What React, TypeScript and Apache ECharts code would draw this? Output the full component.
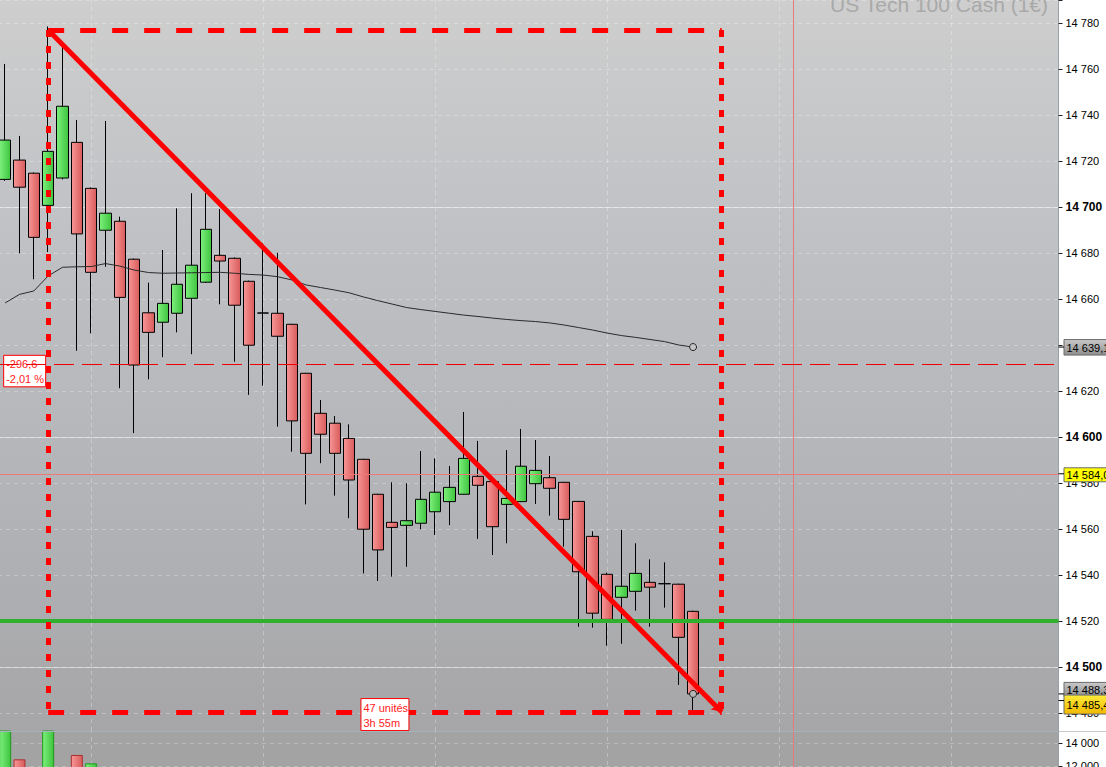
import React, { useEffect, useRef } from "react";
import * as echarts from "echarts";

const W = 1106;
const H = 767;
const FONT = 'Arial, "Liberation Sans", sans-serif';

// ---------- data ----------
const slotCount = 74; // candle slots shown on the time axis (49 filled, the rest is future space)
const categories = Array.from({ length: slotCount }, (_, i) => `#${i + 1}`);

const opens = [
  14712.0, 14720.4, 14714.7, 14700.7, 14712.6, 14728.1, 14708.1, 14689.9, 14693.8, 14677.3,
  14654.0, 14649.9, 14653.8, 14660.3, 14667.3, 14679.0, 14677.7, 14667.7, 14653.9, 14653.8,
  14649.0, 14627.7, 14610.3, 14606.0, 14599.4, 14590.3, 14575.1, 14562.9, 14561.6, 14562.5,
  14567.5, 14571.9, 14575.1, 14582.9, 14580.6, 14570.7, 14571.9, 14579.7, 14582.3, 14580.3,
  14572.0, 14556.8, 14540.3, 14530.3, 14532.9, 14536.8, 14536.2, 14536.0, 14524.2,
];
const closes = [
  14729.1, 14708.6, 14686.8, 14724.2, 14743.8, 14688.3, 14671.6, 14697.3, 14660.7, 14631.3,
  14645.5, 14658.1, 14666.4, 14674.7, 14690.3, 14676.5, 14657.3, 14639.9, 14653.9, 14643.8,
  14607.0, 14592.9, 14601.2, 14592.9, 14581.3, 14559.9, 14550.9, 14560.7, 14563.6, 14572.9,
  14576.0, 14578.1, 14590.7, 14579.0, 14561.0, 14573.3, 14587.3, 14585.5, 14577.7, 14564.2,
  14541.4, 14523.4, 14520.7, 14535.1, 14540.7, 14534.7, 14536.2, 14512.9, 14488.3,
];
const lows = [
  14711.4, 14679.9, 14668.6, 14680.4, 14712.0, 14637.5, 14645.1, 14674.0, 14621.2, 14601.7,
  14625.1, 14634.7, 14645.5, 14636.0, 14667.0, 14657.7, 14632.7, 14618.3, 14622.3, 14604.5,
  14593.6, 14570.7, 14588.6, 14574.5, 14564.7, 14540.7, 14537.4, 14539.3, 14543.6, 14559.9,
  14557.4, 14561.7, 14575.0, 14555.7, 14548.7, 14553.8, 14571.7, 14570.9, 14565.8, 14552.3,
  14517.5, 14517.1, 14509.3, 14510.1, 14524.5, 14517.5, 14525.8, 14492.2, 14481.3,
];
const highs = [
  14762.2, 14730.9, 14715.0, 14778.5, 14769.7, 14737.8, 14708.5, 14737.4, 14695.8, 14677.6,
  14667.1, 14681.3, 14699.4, 14706.0, 14706.0, 14699.1, 14678.1, 14668.0, 14684.2, 14680.1,
  14649.2, 14627.9, 14616.1, 14609.1, 14605.5, 14590.5, 14575.3, 14580.3, 14579.9, 14593.9,
  14590.7, 14587.4, 14610.9, 14598.3, 14581.0, 14594.3, 14603.5, 14598.7, 14591.7, 14580.5,
  14572.2, 14559.0, 14541.0, 14559.6, 14553.8, 14546.8, 14545.5, 14536.2, 14524.5,
];
const movingAverage = [
  14658.3, 14662.0, 14663.5, 14670.0, 14673.8, 14674.0, 14674.1, 14675.4, 14674.3, 14672.6,
  14671.5, 14671.2, 14671.3, 14671.4, 14671.5, 14671.6, 14671.2, 14670.7, 14670.4, 14669.7,
  14668.3, 14666.1, 14665.0, 14663.9, 14662.7, 14660.9, 14659.3, 14657.8, 14656.3, 14655.4,
  14654.6, 14653.8, 14653.0, 14652.4, 14651.7, 14651.1, 14650.6, 14650.2, 14649.6, 14648.7,
  14647.6, 14646.5, 14645.2, 14644.1, 14643.3, 14642.4, 14641.5, 14640.0, 14639.1,
];
// volume pane: only the first bars reach the visible part of the pane
const volumes: (number | null)[] = [15600, 12580, null, 15400, null, 12960, 12230];
const volumeSide = ["up", "down", "", "up", "", "down", "up"];

const priceMin = 14472.17;
const priceMax = 14790;
const priceStep = 20;
const volumeMin = 10000;
const volumeMax = 15043.5;
const volumeStep = 2000;

const retraceLevel = 14631.6;
const alertLevel = 14584.0;
const supportLevel = 14520.0;
const majorLevels = [14500, 14600, 14700];
const maLastValue = 14639.1;
const lastClose = 14488.3;
const bidPrice = 14485.4;

const boxStart = 3;
const boxEnd = 50;
const boxHigh = 14777.0;
const boxLow = 14480.4;
const boxLabel = ["-296,6", "-2,01 %"];
const spanLabel = ["47 unités", "3h 55m"];
const gridColumns = [6, 18, 30, 42, 54, 66];
const nowSlot = 55;
const title = "US Tech 100 Cash (1€)";

// ---------- helpers ----------
const groupThousands = (n: number) => String(n).replace(/\B(?=(\d{3})+(?!\d))/g, " ");
const fmtPrice = (v: number) => {
  const [i, d] = v.toFixed(1).split(".");
  return `${groupThousands(Number(i))},${d}`;
};

const GRID_LEFT = -2;
const GRID_RIGHT = 47.5;
const MAIN_H = 731;
const VOL_H = 58;

function buildOption() {
  const upFill = new echarts.graphic.LinearGradient(0, 0, 1, 0, [
    { offset: 0, color: "#7df07d" },
    { offset: 1, color: "#3ec43e" },
  ]);
  const downFill = new echarts.graphic.LinearGradient(0, 0, 1, 0, [
    { offset: 0, color: "#f89696" },
    { offset: 1, color: "#d85b5b" },
  ]);
  const mainBg = new echarts.graphic.LinearGradient(0, 0, 0, 1, [
    { offset: 0, color: "#cecece" },
    { offset: 0.35, color: "#bec0c4" },
    { offset: 0.7, color: "#b2b3b7" },
    { offset: 1, color: "#a6a6a8" },
  ]);

  const priceLabel = (v: number) => {
    const r = Math.round(v);
    if (Math.abs(v - r) > 0.01 || r % priceStep !== 0) return "";
    const s = groupThousands(r);
    return r % 100 === 0 ? `{b|${s}}` : `{n|${s}}`;
  };
  const volLabel = (v: number) => {
    const r = Math.round(v);
    if (Math.abs(v - r) > 0.01 || r % volumeStep !== 0) return "";
    return `{n|${groupThousands(r)}}`;
  };
  const rich = {
    b: { fontFamily: FONT, fontSize: 12, fontWeight: "bold", color: "#000" },
    n: { fontFamily: FONT, fontSize: 11, color: "#000" },
  };

  const hLine = { color: "#ff0000", width: 5, type: [16, 16] };
  const vLine = { color: "#ff0000", width: 5, type: [7, 9] };
  const c = (i: number) => categories[i];

  const markCommon = {
    silent: true,
    symbol: ["none", "none"],
    label: { show: false },
    emphasis: { disabled: true },
    animation: false,
  };

  return {
    animation: false,
    backgroundColor: "#ffffff",
    textStyle: { fontFamily: FONT },
    grid: [
      { left: GRID_LEFT, right: GRID_RIGHT, top: 0, height: MAIN_H, show: true, backgroundColor: mainBg, borderWidth: 0, containLabel: false, outerBoundsMode: "none" },
      { left: GRID_LEFT, right: GRID_RIGHT, top: MAIN_H, height: VOL_H, show: true, backgroundColor: "#a3a3a3", borderWidth: 0, containLabel: false, outerBoundsMode: "none" },
    ],
    xAxis: [
      { type: "category", gridIndex: 0, data: categories, boundaryGap: true, show: false },
      { type: "category", gridIndex: 1, data: categories, boundaryGap: true, show: false },
    ],
    yAxis: [
      {
        type: "value", gridIndex: 0, position: "right", min: priceMin, max: priceMax,
        splitNumber: 16, minInterval: priceStep, maxInterval: priceStep,
        axisLine: { show: true, lineStyle: { color: "#9aa1a6", width: 1 } },
        axisTick: { show: true, length: 4, lineStyle: { color: "#222" } },
        axisLabel: { margin: 7, color: "#000", formatter: priceLabel, rich, hideOverlap: false },
        splitLine: { show: true, lineStyle: { color: "rgba(255,255,255,0.28)", type: [4, 4], width: 1 } },
      },
      {
        type: "value", gridIndex: 1, position: "right", min: volumeMin, max: volumeMax,
        splitNumber: 3, minInterval: volumeStep, maxInterval: volumeStep,
        axisLine: { show: true, lineStyle: { color: "#9aa1a6", width: 1 } },
        axisTick: { show: true, length: 4, lineStyle: { color: "#222" } },
        axisLabel: { margin: 7, color: "#000", formatter: volLabel, rich },
        splitLine: { show: true, lineStyle: { color: "rgba(255,255,255,0.25)", type: [4, 4], width: 1 } },
      },
    ],
    series: [
      {
        // last close marker + background grid columns / major levels (under the candles)
        type: "scatter", xAxisIndex: 0, yAxisIndex: 0, silent: true, z: 5,
        data: [[48, lastClose]], symbol: "circle", symbolSize: 7,
        itemStyle: { color: "#b5b5b5", borderColor: "#222", borderWidth: 1, opacity: 1 },
        markLine: {
          ...markCommon, z: 1,
          data: [
            ...gridColumns.map((i) => ({ xAxis: c(i), lineStyle: { color: "rgba(255,255,255,0.3)", width: 1, type: [4, 4] } })),
            ...majorLevels.map((v) => ({ yAxis: v, lineStyle: { color: "rgba(255,255,255,0.45)", width: 1, type: "solid" } })),
            { xAxis: c(nowSlot), lineStyle: { color: "#e47c7c", width: 1, type: "solid" } },
          ],
        },
      },
      {
        type: "candlestick", xAxisIndex: 0, yAxisIndex: 0, silent: true, z: 3,
        data: opens.map((o, i) => [o, closes[i], lows[i], highs[i]]),
        barWidth: 12,
        itemStyle: {
          color: upFill, color0: downFill,
          borderColor: "#000", borderColor0: "#000", borderColorDoji: "#000", borderWidth: 1,
        },
      },
      {
        type: "line", xAxisIndex: 0, yAxisIndex: 0, silent: true, z: 4,
        symbol: "none", showSymbol: true,
        lineStyle: { color: "#2a2a2a", width: 1 },
        data: movingAverage.map((v, i) =>
          i === movingAverage.length - 1
            ? { value: v, symbol: "circle", symbolSize: 7, itemStyle: { color: "#c4c4c4", borderColor: "#222", borderWidth: 1 } }
            : v
        ),
        markLine: {
          ...markCommon, z: 6,
          data: [
            { yAxis: retraceLevel, lineStyle: { color: "#ee0000", width: 1, type: [20, 8] } },
            { yAxis: alertLevel, lineStyle: { color: "#f07878", width: 1, type: "solid" } },
            { yAxis: supportLevel, lineStyle: { color: "#2fb02f", width: 4, type: "solid" } },
            [{ coord: [c(boxStart), boxHigh] }, { coord: [c(boxEnd), boxHigh] }].map((d) => ({ ...d, lineStyle: hLine })),
            [{ coord: [c(boxStart), boxLow] }, { coord: [c(boxEnd), boxLow] }].map((d) => ({ ...d, lineStyle: hLine })),
            [{ coord: [c(boxStart), boxHigh] }, { coord: [c(boxStart), boxLow] }].map((d) => ({ ...d, lineStyle: vLine })),
            [{ coord: [c(boxEnd), boxHigh] }, { coord: [c(boxEnd), boxLow] }].map((d) => ({ ...d, lineStyle: vLine })),
            [
              { coord: [c(boxStart), boxHigh], symbol: "none", lineStyle: { color: "#ff0000", width: 5, type: "solid" } },
              { coord: [c(boxEnd), boxLow], symbol: "arrow", symbolSize: [9, 10], lineStyle: { color: "#ff0000", width: 5, type: "solid" } },
            ],
          ],
        },
      },
      {
        type: "bar", xAxisIndex: 1, yAxisIndex: 1, silent: true, z: 3, barWidth: 12,
        data: volumes.map((v, i) =>
          v == null
            ? null
            : {
                value: v,
                itemStyle: volumeSide[i] === "up"
                  ? { color: upFill, borderColor: "#1e9a1e", borderWidth: 1 }
                  : { color: downFill, borderColor: "#a83232", borderWidth: 1 },
              }
        ),
        markLine: {
          ...markCommon, z: 1,
          data: [
            ...gridColumns.map((i) => ({ xAxis: c(i), lineStyle: { color: "rgba(255,255,255,0.3)", width: 1, type: [4, 4] } })),
            { xAxis: c(nowSlot), lineStyle: { color: "#e47c7c", width: 1, type: "solid" } },
          ],
        },
      },
    ],
  };
}

function buildGraphics(chart: any) {
  const px = (i: number, v: number) => chart.convertToPixel({ gridIndex: 0 }, [i, v]) as number[];
  const axisX = W - GRID_RIGHT;
  const [bx0] = px(boxStart, boxHigh);
  const [bx1, byBot] = px(boxEnd, boxLow);
  const yRet = px(0, retraceLevel)[1];
  const yMa = px(0, maLastValue)[1];
  const yAlert = px(0, alertLevel)[1];
  const yLast = px(0, lastClose)[1];
  const yBid = px(0, bidPrice)[1];

  const grayTag = new echarts.graphic.LinearGradient(0, 0, 0, 1, [
    { offset: 0, color: "#c9c9c9" },
    { offset: 1, color: "#8e8e8e" },
  ]);
  const goldTag = new echarts.graphic.LinearGradient(0, 0, 0, 1, [
    { offset: 0, color: "#ffec3a" },
    { offset: 1, color: "#f2b800" },
  ]);

  const tag = (yTop: number, h: number, yText: number, text: string, fill: any, z: number) => [
    { type: "rect", z, shape: { x: axisX + 5.5, y: yTop, width: 60, height: h }, style: { fill, stroke: "#6a6a6a", lineWidth: 1 } },
    { type: "text", z: z + 1, style: { x: axisX + 8, y: yText, text, fill: "#000", font: `11px ${FONT}`, align: "left", verticalAlign: "middle" } },
  ];
  const tick = (y: number) => ({ type: "line", z: 60, shape: { x1: axisX, y1: y, x2: axisX + 5.5, y2: y }, style: { stroke: "#000", lineWidth: 1 } });

  const midX = (bx0 + bx1) / 2;
  return [
    { type: "text", z: 0, style: { x: 1048, y: 4, text: title, fill: "#a9a9a9", font: `21px ${FONT}`, align: "right", verticalAlign: "middle" } },
    { type: "line", z: 30, shape: { x1: 0, y1: MAIN_H + 0.5, x2: axisX, y2: MAIN_H + 0.5 }, style: { stroke: "#a3b3b9", lineWidth: 1 } },
    { type: "line", z: 30, shape: { x1: axisX, y1: MAIN_H + 0.5, x2: W, y2: MAIN_H + 0.5 }, style: { stroke: "#c9c9c9", lineWidth: 1 } },
    // measurement label on the left edge of the box (under the dashed lines)
    { type: "rect", z: 1, shape: { x: bx0 - 44.5, y: yRet - 9, width: 42, height: 31.5 }, style: { fill: "#fff", stroke: "#ff0000", lineWidth: 1 } },
    { type: "text", z: 1, style: { x: bx0 - 42, y: yRet, text: boxLabel[0], fill: "#ff1a1a", font: `11px ${FONT}`, align: "left", verticalAlign: "middle" } },
    { type: "text", z: 1, style: { x: bx0 - 42, y: yRet + 15, text: boxLabel[1], fill: "#ff1a1a", font: `11px ${FONT}`, align: "left", verticalAlign: "middle" } },
    // span label on the bottom edge of the box (above the dashed lines)
    { type: "rect", z: 20, shape: { x: midX - 24, y: byBot - 13.5, width: 48, height: 32 }, style: { fill: "#fff", stroke: "#ff0000", lineWidth: 1 } },
    { type: "text", z: 21, style: { x: midX - 21.5, y: byBot - 4.5, text: spanLabel[0], fill: "#ff1a1a", font: `11px ${FONT}`, align: "left", verticalAlign: "middle" } },
    { type: "text", z: 21, style: { x: midX - 21.5, y: byBot + 10.5, text: spanLabel[1], fill: "#ff1a1a", font: `11px ${FONT}`, align: "left", verticalAlign: "middle" } },
    // price tags on the axis
    ...tag(yMa - 7.5, 15.5, yMa + 0.5, fmtPrice(maLastValue), grayTag, 50),
    ...tag(yAlert - 6, 14, yAlert + 1, fmtPrice(alertLevel), "#ffff00", 50),
    ...tag(yLast - 11.5, 14, yLast - 3.5, fmtPrice(lastClose), grayTag, 52),
    ...tag(yBid - 5.5, 19, yBid + 4, fmtPrice(bidPrice), goldTag, 54),
    tick(yMa), tick(yAlert), tick(yLast), tick(yBid),
  ];
}

export default function App() {
  const ref = useRef<HTMLDivElement>(null);
  useEffect(() => {
    if (!ref.current) return;
    const chart = echarts.init(ref.current, undefined, { renderer: "svg", width: W, height: H });
    chart.setOption(buildOption() as any);
    chart.setOption({ graphic: { elements: buildGraphics(chart) } } as any);
    return () => chart.dispose();
  }, []);
  return (
    <div
      ref={ref}
      style={{ position: "fixed", left: 0, top: 0, width: W, height: H, background: "#fff" }}
    />
  );
}
